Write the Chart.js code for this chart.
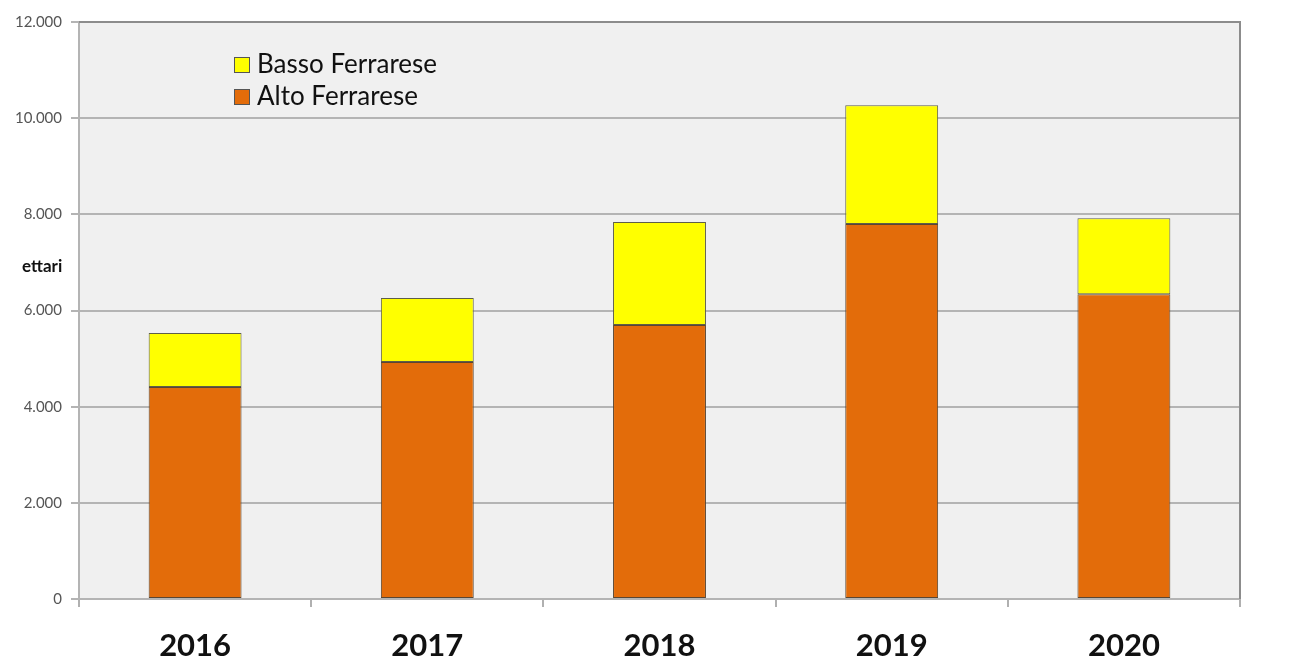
<!DOCTYPE html>
<html>
<head>
<meta charset="utf-8">
<script src="https://cdn.jsdelivr.net/npm/chart.js@4"></script>
<style>
  html, body { margin: 0; padding: 0; background: #fff; }
  #wrap { width: 1291px; height: 661px; }
</style>
</head>
<body>
<div id="wrap"><canvas id="barChart" width="1291" height="661"></canvas></div>
<script>
// anni e superfici (ettari)
const anni = ['2016', '2017', '2018', '2019', '2020'];
const altoFerrarese = [4410, 4930, 5700, 7800, 6340];
const bassoFerrarese = [1120, 1330, 2140, 2470, 1580];
const yTicks = [0, 2000, 4000, 6000, 8000, 10000, 12000];

function fmt(v) {
    return String(v).replace(/\B(?=(\d{3})+(?!\d))/g, '.');
}

// sfondo grigio, bordo, etichetta "ettari" e legenda interna
const sfondo = {
    id: 'sfondo',
    beforeDraw(chart) {
        const { ctx, chartArea: a } = chart;
        ctx.save();
        ctx.fillStyle = '#f0f0f0';
        ctx.fillRect(a.left, a.top, a.right - a.left, a.bottom - a.top);
        ctx.restore();
    },
    afterDraw(chart) {
        const { ctx, chartArea: a } = chart;
        ctx.save();
        ctx.strokeStyle = '#8c8c8c';
        ctx.lineWidth = 2;
        ctx.beginPath();
        ctx.moveTo(a.left, a.top);
        ctx.lineTo(a.right, a.top);
        ctx.lineTo(a.right, a.bottom);
        ctx.stroke();

        ctx.fillStyle = '#111';
        ctx.font = 'bold 17px Lato';
        ctx.textBaseline = 'middle';
        ctx.fillText('ettari', 22, 267);

        // legenda: Basso sopra, Alto sotto
        const voci = [chart.data.datasets[1], chart.data.datasets[0]];
        voci.forEach((ds, i) => {
            const y = 65 + i * 32;
            ctx.fillStyle = ds.backgroundColor;
            ctx.fillRect(234, y - 8, 16, 16);
            ctx.strokeStyle = '#555';
            ctx.lineWidth = 1;
            ctx.strokeRect(234.5, y - 7.5, 15, 15);
            ctx.fillStyle = '#111';
            ctx.font = '26px Lato';
            ctx.fillText(ds.label, 257, y);
        });
        ctx.restore();
    }
};

const ctx = document.getElementById('barChart').getContext('2d');
new Chart(ctx, {
    type: 'bar',
    data: {
        labels: anni,
        datasets: [
            {
                label: 'Alto Ferrarese',
                data: altoFerrarese,
                backgroundColor: '#e36c0a',
                borderColor: '#5a4632',
                borderWidth: 1,
                borderSkipped: false
            },
            {
                label: 'Basso Ferrarese',
                data: bassoFerrarese,
                backgroundColor: '#ffff00',
                borderColor: '#5e5e4a',
                borderWidth: 1,
                borderSkipped: false
            }
        ]
    },
    options: {
        responsive: false,
        animation: false,
        layout: { padding: { top: 22, right: 51, left: 0, bottom: 0 } },
        plugins: {
            legend: { display: false },
            tooltip: { enabled: false }
        },
        datasets: {
            bar: { categoryPercentage: 0.4, barPercentage: 1 }
        },
        scales: {
            x: {
                stacked: true,
                afterFit(scale) { scale.height = 62; },
                grid: {
                    offset: true,
                    drawOnChartArea: false,
                    drawTicks: true,
                    tickLength: 8,
                    color: '#b0b0b0',
                    lineWidth: 2
                },
                border: { color: '#b4b4b4', width: 2 },
                ticks: {
                    color: '#111',
                    font: { family: 'Lato', size: 31, weight: 'bold' },
                    padding: 20
                }
            },
            y: {
                stacked: true,
                min: 0,
                max: 12000,
                afterFit(scale) { scale.width = 79; },
                afterBuildTicks(scale) {
                    scale.ticks = yTicks.map(v => ({ value: v }));
                },
                grid: {
                    color: '#b4b4b4',
                    lineWidth: 2,
                    tickLength: 8
                },
                border: { color: '#b4b4b4', width: 2 },
                ticks: {
                    color: '#555',
                    font: { family: 'Lato', size: 15 },
                    padding: 9,
                    callback: v => fmt(v)
                }
            }
        }
    },
    plugins: [sfondo]
});
</script>
</body>
</html>
